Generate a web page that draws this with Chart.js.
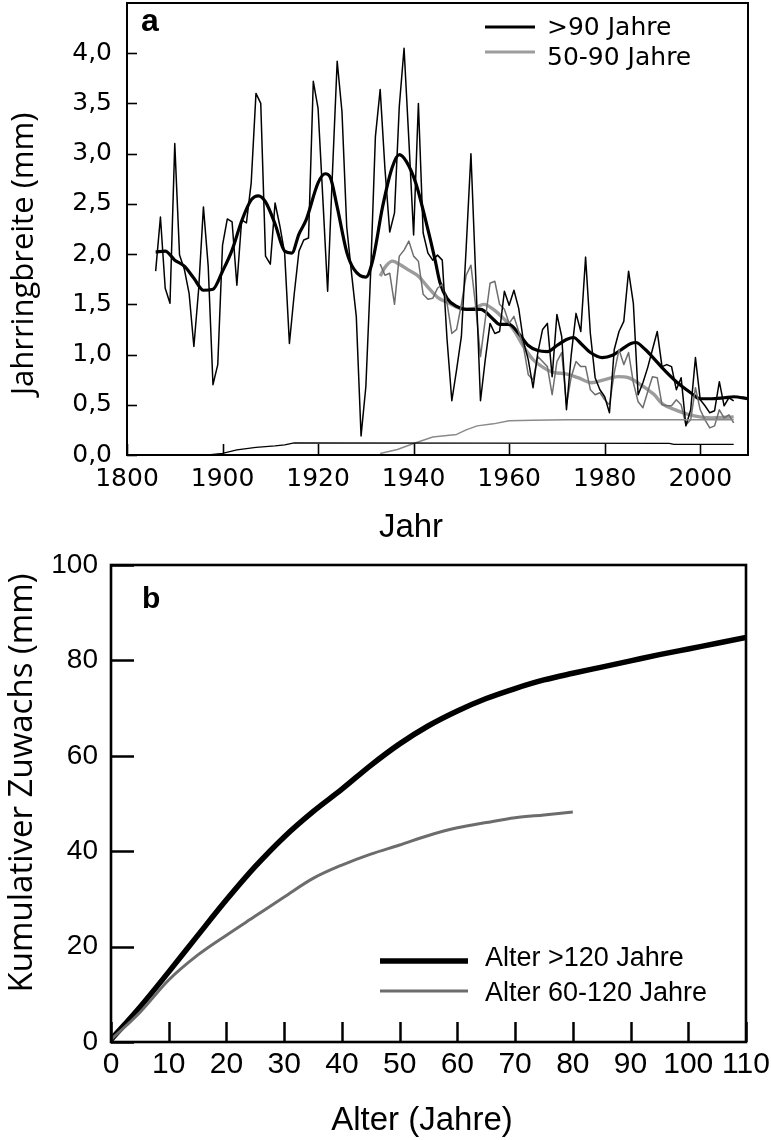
<!DOCTYPE html>
<html><head><meta charset="utf-8">
<script src="https://cdn.jsdelivr.net/npm/chart.js@4.4.1/dist/chart.umd.min.js"></script>
<style>
html,body{margin:0;padding:0;background:#fff;}
#wrapA{position:absolute;left:0;top:0;width:771px;height:545px;}
#wrapB{position:absolute;left:0;top:545px;width:771px;height:595px;}
</style></head><body>
<div id="wrapA"><canvas id="chartA"></canvas></div>
<div id="wrapB"><canvas id="chartB"></canvas></div>
<script>
// ===== Panel a: Jahrringbreite =====
const firstYearOld = 1886;
const ringOld = [1.83,2.37,1.66,1.51,3.10,1.99,1.85,1.61,1.08,1.65,
 2.47,1.88,0.70,0.90,2.09,2.35,2.32,1.69,2.34,2.31,
 2.71,3.60,3.50,1.98,1.90,2.51,2.28,2.01,1.11,1.60,
 2.03,2.14,2.16,3.72,3.45,2.55,1.63,2.80,3.92,3.42,
 2.27,1.81,1.38,0.19,0.68,1.81,3.17,3.64,2.85,2.22,
 2.41,3.47,4.05,3.14,2.19,3.50,2.21,2.01,1.94,1.99,
 1.94,1.15,0.54,0.85,1.18,2.06,3.00,1.78,0.54,0.95,
 1.31,1.21,1.23,1.63,1.49,1.64,1.46,1.13,0.95,0.67,
 1.02,1.25,1.31,0.78,1.40,1.18,0.45,1.00,1.41,1.23,
 1.97,1.21,0.77,0.65,0.58,0.42,1.05,1.23,1.33,1.83,
 1.51,0.60,0.72,0.87,1.05,1.23,0.88,0.90,0.88,0.65,
 0.77,0.29,0.45,0.97,0.55,0.49,0.42,0.44,0.73,0.49,
 0.57,0.54];
const firstYearYoung = 1933;
const ringYoung = [1.90,1.79,1.81,1.50,1.98,2.04,2.13,1.98,1.93,1.60,
 1.55,1.56,1.66,1.70,1.51,1.21,1.25,1.50,1.79,1.89,
 1.48,0.98,1.35,1.71,1.73,1.50,1.45,1.31,1.38,1.23,
 1.08,0.80,0.75,0.98,0.93,0.88,0.60,0.93,1.02,0.50,
 0.78,0.93,0.88,0.88,0.65,0.60,0.62,0.55,0.50,0.82,
 1.05,0.90,1.02,0.72,0.53,0.47,0.63,0.78,0.77,0.50,
 0.49,0.49,0.55,0.50,0.30,0.35,0.67,0.45,0.35,0.27,
 0.29,0.45,0.37,0.40,0.32];
const splineOldYears = [1886,1888,1890,1892,1894,1896,1898,1900,1902,1904,1906,1907.5,1909,1911,1913,1914.5,1916,1917.5,1920,1921.5,1922.5,1924,1926,1927.5,1930,1931.5,1933.5,1935.5,1937,1938.5,1940.5,1942.5,1944.5,1945.5,1947,1949,1951,1954,1956.5,1958,1960,1962,1964,1966,1968,1970,1972,1973.5,1975,1977,1979.5,1981.5,1983.5,1985.5,1986.5,1988.5,1990.5,1992,1995,1998,2000,2002,2005,2007,2010];
const splineOldValues = [2.02,2.03,1.94,1.88,1.76,1.64,1.65,1.83,2.04,2.33,2.54,2.58,2.52,2.30,2.03,2.01,2.20,2.34,2.71,2.80,2.77,2.47,2.02,1.85,1.77,1.95,2.47,2.86,2.99,2.92,2.70,2.34,1.94,1.72,1.56,1.48,1.45,1.45,1.36,1.30,1.30,1.21,1.09,1.04,1.03,1.09,1.15,1.17,1.11,1.02,0.97,0.99,1.05,1.11,1.12,1.05,0.95,0.87,0.73,0.62,0.56,0.56,0.57,0.58,0.56];
const splineYoungYears = [1933,1934.2,1935.6,1937,1939,1941,1943,1945,1947,1950.5,1952.6,1954.7,1956.7,1958.8,1960.9,1963,1965,1967.2,1969.5,1971.7,1974.4,1977.2,1980,1982.8,1984.9,1986.9,1989,1990.4,1991.8,1995.3,1998.7,2002.2,2007];
const splineYoungValues = [1.78,1.88,1.93,1.90,1.84,1.78,1.67,1.57,1.52,1.45,1.46,1.50,1.45,1.36,1.25,1.08,0.95,0.87,0.82,0.81,0.77,0.72,0.75,0.78,0.77,0.72,0.65,0.60,0.52,0.44,0.39,0.37,0.38];
const depthOldYears = [1886,1897,1900,1903,1907,1911,1913,1915,1993.5,1994.5,2007];
const depthOldValues = [0,0,0.015,0.05,0.075,0.09,0.10,0.12,0.115,0.105,0.105];
const depthYoungYears = [1933,1936.6,1940,1944,1946,1949,1951,1953.3,1956.7,1960,1965,1972,2007];
const depthYoungValues = [0.015,0.055,0.115,0.18,0.19,0.205,0.25,0.29,0.31,0.34,0.345,0.35,0.35];
const yearTicks = [1880,1900,1920,1940,1960,1980,2000];
const yearTickLabels = ['1800','1900','1920','1940','1960','1980','2000'];
const widthTicks = [0,0.5,1.0,1.5,2.0,2.5,3.0,3.5,4.0];
const legendA = ['>90 Jahre','50-90 Jahre'];

// ===== Panel b: Kumulativer Zuwachs =====
const ageOld = [0,5,10,15,20,25,30,35,40,45,50,55,60,65,70,75,80,85,90,95,100,105,110];
const cumOld = [0.5,7.3,14.7,22.3,29.8,36.8,43.0,48.3,53.0,58.0,62.5,66.3,69.4,72.0,74.1,75.9,77.3,78.6,79.9,81.2,82.4,83.6,84.8];
const ageYoung = [0,5,10,15,20,25,30,35,40,45,50,55,60,65,70,75,80];
const cumYoung = [0.5,6.2,13.0,18.2,22.4,26.4,30.4,34.3,37.1,39.4,41.3,43.3,44.9,46.0,47.0,47.6,48.2];
const ageTicks = [0,10,20,30,40,50,60,70,80,90,100,110];
const cumTicks = [0,20,40,60,80,100];
const legendB = ['Alter >120 Jahre','Alter 60-120 Jahre'];

const pts = (xs, ys) => ys.map((y, i) => ({x: xs[i], y}));
const annual = (start, ys) => ys.map((y, i) => ({x: start + i, y}));

const decor = {
  id: 'decor',
  afterDatasetsDraw(chart, args, o) {
    const {ctx, chartArea: a, scales} = chart;
    ctx.save();
    ctx.strokeStyle = '#000';
    ctx.fillStyle = '#000';
    ctx.lineCap = 'butt';
    ctx.lineWidth = o.tickWidth;
    scales.x.ticks.forEach(t => {
      const px = Math.round(scales.x.getPixelForValue(t.value)) + 0.5;
      ctx.beginPath(); ctx.moveTo(px, a.bottom); ctx.lineTo(px, a.bottom - o.xTickLen); ctx.stroke();
    });
    scales.y.ticks.forEach(t => {
      const py = Math.round(scales.y.getPixelForValue(t.value)) + 0.5;
      ctx.beginPath(); ctx.moveTo(a.left, py); ctx.lineTo(a.left + o.yTickLen, py); ctx.stroke();
    });
    ctx.lineWidth = o.frameWidth;
    ctx.strokeRect(a.left, a.top, a.right - a.left, a.bottom - a.top);
    // panel letter
    ctx.font = o.panelFont;
    ctx.textAlign = 'left'; ctx.textBaseline = 'alphabetic';
    ctx.fillText(o.panel, o.panelX, o.panelY);
    // legend
    o.legend.forEach(it => {
      ctx.strokeStyle = it.color; ctx.lineWidth = it.width;
      ctx.beginPath(); ctx.moveTo(it.x0, it.y); ctx.lineTo(it.x1, it.y); ctx.stroke();
      ctx.fillStyle = '#000'; ctx.font = o.legendFont;
      ctx.textBaseline = 'middle';
      ctx.fillText(it.text, it.tx, it.ty);
    });
    // axis titles
    ctx.fillStyle = '#000';
    ctx.textAlign = 'center'; ctx.textBaseline = 'alphabetic';
    ctx.font = o.xTitleFont;
    ctx.fillText(o.xTitle, o.xTitleX, o.xTitleY);
    ctx.save();
    ctx.translate(o.yTitleX, o.yTitleY);
    ctx.rotate(-Math.PI / 2);
    ctx.font = o.yTitleFont; ctx.textBaseline = 'middle';
    ctx.fillText(o.yTitle, 0, 0);
    ctx.restore();
    ctx.restore();
  }
};

const lineDs = (label, data, color, width, smooth) => ({
  label, data, borderColor: color, borderWidth: width, pointRadius: 0,
  fill: false, tension: smooth ? 0.4 : 0, cubicInterpolationMode: smooth ? 'monotone' : 'default',
  borderJoinStyle: 'round'
});

const fitY = w => s => { s.width = w; s.paddingTop = 0; s.paddingBottom = 0; };
const fitX = h => s => { s.height = h; s.paddingLeft = 0; s.paddingRight = 0; };

const GRAY_RAW = '#6e6e6e', GRAY_SMOOTH = '#9c9c9c', GRAY_DEPTH = '#8a8a8a';

new Chart(document.getElementById('chartA'), {
  type: 'line',
  data: { datasets: [
    lineDs('depthOld', pts(depthOldYears, depthOldValues), '#000', 1.3, false),
    lineDs('depthYoung', pts(depthYoungYears, depthYoungValues), GRAY_DEPTH, 1.5, false),
    lineDs(legendA[0] + ' roh', annual(firstYearOld, ringOld), '#000', 1.5, false),
    lineDs(legendA[1] + ' roh', annual(firstYearYoung, ringYoung), GRAY_RAW, 1.5, false),
    lineDs(legendA[0], pts(splineOldYears, splineOldValues), '#000', 3.2, true),
    lineDs(legendA[1], pts(splineYoungYears, splineYoungValues), GRAY_SMOOTH, 3.4, true)
  ]},
  options: {
    responsive: true, maintainAspectRatio: false, animation: false, parsing: false,
    layout: { padding: { left: 0, top: 3, right: 23, bottom: 0 } },
    plugins: { legend: { display: false }, tooltip: { enabled: false },
      decor: {
        tickWidth: 1.6, xTickLen: 11, yTickLen: 10, frameWidth: 2,
        panel: 'a', panelFont: 'bold 32px "Liberation Sans"', panelX: 141, panelY: 31,
        legendFont: '25px "DejaVu Sans"',
        legend: [
          {text: legendA[0], color: '#000', width: 3, x0: 485, x1: 535, y: 27, tx: 547, ty: 28},
          {text: legendA[1], color: GRAY_SMOOTH, width: 3, x0: 485, x1: 535, y: 52, tx: 547, ty: 58}
        ],
        xTitle: 'Jahr', xTitleFont: '33px "Liberation Sans"', xTitleX: 411, xTitleY: 537,
        yTitle: 'Jahrringbreite (mm)', yTitleFont: '31px "Open Sans"', yTitleX: 24, yTitleY: 254
      }
    },
    scales: {
      x: { type: 'linear', min: 1880, max: 2010,
        grid: { display: false, drawTicks: false }, border: { display: false },
        afterBuildTicks: s => { s.ticks = yearTicks.map(v => ({value: v})); },
        afterFit: fitX(90),
        ticks: { autoSkip: false, maxRotation: 0, padding: 9, color: '#000',
          font: { family: 'DejaVu Sans', size: 25 },
          callback: v => yearTickLabels[yearTicks.indexOf(v)] } },
      y: { type: 'linear', min: 0, max: 4.5,
        grid: { display: false, drawTicks: false }, border: { display: false },
        afterBuildTicks: s => { s.ticks = widthTicks.map(v => ({value: v})); },
        afterFit: fitY(127),
        ticks: { padding: 15, color: '#000', font: { family: 'DejaVu Sans', size: 25 },
          callback: v => v.toFixed(1).replace('.', ',') } }
    }
  },
  plugins: [decor]
});

const GRAY_B = '#6c6c6c';
new Chart(document.getElementById('chartB'), {
  type: 'line',
  data: { datasets: [
    lineDs(legendB[1], pts(ageYoung, cumYoung), GRAY_B, 3, true),
    lineDs(legendB[0], pts(ageOld, cumOld), '#000', 5.5, true)
  ]},
  options: {
    responsive: true, maintainAspectRatio: false, animation: false, parsing: false,
    layout: { padding: { left: 0, top: 20, right: 25, bottom: 0 } },
    plugins: { legend: { display: false }, tooltip: { enabled: false },
      decor: {
        tickWidth: 2.5, xTickLen: 20, yTickLen: 23, frameWidth: 2.6,
        panel: 'b', panelFont: 'bold 30px "Liberation Sans"', panelX: 142, panelY: 63,
        legendFont: '27px "Liberation Sans"',
        legend: [
          {text: legendB[0], color: '#000', width: 5.5, x0: 380, x1: 468, y: 416, tx: 485, ty: 414},
          {text: legendB[1], color: GRAY_B, width: 3, x0: 380, x1: 468, y: 446, tx: 485, ty: 449}
        ],
        xTitle: 'Alter (Jahre)', xTitleFont: '33px "Liberation Sans"', xTitleX: 422, xTitleY: 585,
        yTitle: 'Kumulativer Zuwachs (mm)', yTitleFont: '33px "Open Sans"', yTitleX: 23, yTitleY: 238
      }
    },
    scales: {
      x: { type: 'linear', min: 0, max: 110,
        grid: { display: false, drawTicks: false }, border: { display: false },
        afterBuildTicks: s => { s.ticks = ageTicks.map(v => ({value: v})); },
        afterFit: fitX(98),
        ticks: { autoSkip: false, maxRotation: 0, padding: 5, color: '#000',
          font: { family: 'Liberation Sans', size: 30 } } },
      y: { type: 'linear', min: 0, max: 100,
        grid: { display: false, drawTicks: false }, border: { display: false },
        afterBuildTicks: s => { s.ticks = cumTicks.map(v => ({value: v})); },
        afterFit: fitY(111),
        ticks: { padding: 13, color: '#000', font: { family: 'Liberation Sans', size: 28 } } }
    }
  },
  plugins: [decor]
});
</script>
</body></html>
